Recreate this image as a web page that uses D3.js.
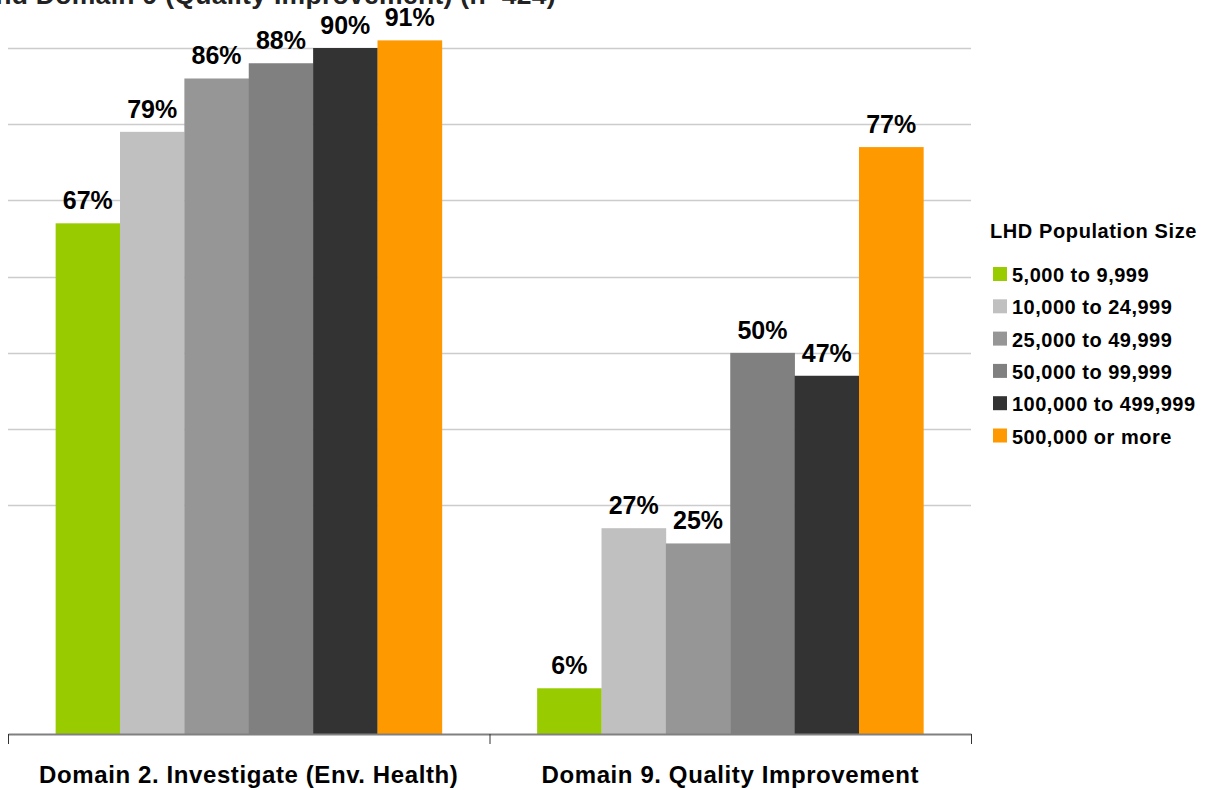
<!DOCTYPE html>
<html><head><meta charset="utf-8">
<script src="https://cdn.jsdelivr.net/npm/d3@7"></script>
<style>
body{margin:0;background:#fff;}
svg{display:block;font-family:Arial,"Liberation Sans",sans-serif;font-weight:bold;}
</style></head><body>
<svg id="c" width="1211" height="790"></svg>
<script>
const titleText = "and Domain 9 (Quality Improvement) (n=424)";
const categories = ["Domain 2. Investigate (Env. Health)", "Domain 9. Quality Improvement"];
const series = ["5,000 to 9,999","10,000 to 24,999","25,000 to 49,999","50,000 to 99,999","100,000 to 499,999","500,000 or more"];
const colors = ["#99CC00","#C0C0C0","#969696","#808080","#333333","#FF9900"];
const domain2Values = [67,79,86,88,90,91];
const domain9Values = [6,27,25,50,47,77];
const gridTicks = [30,40,50,60,70,80,90];
const legendTitle = "LHD Population Size";

const values = [domain2Values, domain9Values];
const svg = d3.select("#c");

const x0 = d3.scaleBand().domain(categories).range([8,971]).padding(0);
const x1 = d3.scaleBand().domain(series).range([0,x0.bandwidth()]).paddingInner(0).paddingOuter(0.74);
const y = d3.scaleLinear().domain([0,90]).range([734,48]);

// gridlines
svg.append("g").selectAll("line").data(gridTicks).join("line")
  .attr("x1",8).attr("x2",971)
  .attr("y1",d=>Math.round(y(d))+0.5).attr("y2",d=>Math.round(y(d))+0.5)
  .attr("stroke","#cccccc").attr("stroke-width",1.5);

// title (cut off at top edge)
svg.append("text").attr("x",556).attr("y",4).attr("text-anchor","end")
  .attr("font-size",26.5).attr("letter-spacing","0.3px").attr("fill","#222").text(titleText);

// bars
const groups = svg.append("g").selectAll("g").data(categories).join("g")
  .attr("transform",d=>`translate(${x0(d)},0)`);
groups.each(function(cat,ci){
  const g = d3.select(this);
  const data = series.map((s,i)=>({s,i,v:values[ci][i]}));
  g.selectAll("rect").data(data).join("rect")
    .attr("x",d=>x1(d.s)).attr("width",x1.bandwidth()+0.3)
    .attr("y",d=>y(d.v)).attr("height",d=>y(0)-y(d.v))
    .attr("fill",d=>colors[d.i]);
  g.selectAll("text").data(data).join("text")
    .attr("x",d=>x1(d.s)+x1.bandwidth()/2)
    .attr("y",d=>y(d.v)-14)
    .attr("text-anchor","middle")
    .attr("font-size",25).attr("fill","#000")
    .text(d=>d.v+"%");
});

// x axis
const xAxis = d3.axisBottom(x0).tickSizeInner(0).tickSizeOuter(0).tickFormat("");
const ax = svg.append("g").attr("transform",`translate(0,${y(0)})`).call(xAxis);
ax.select(".domain").attr("stroke","#808080").attr("stroke-width",2);
// category boundary ticks
const bounds = [x0.range()[0]].concat(categories.map(c=>x0(c)+x0.bandwidth()));
svg.append("g").selectAll("line").data(bounds).join("line")
  .attr("x1",d=>d+0.5).attr("x2",d=>d+0.5).attr("y1",y(0)).attr("y2",y(0)+10)
  .attr("stroke","#333").attr("stroke-width",1);
svg.append("g").selectAll("text").data(categories).join("text")
  .attr("x",d=>x0(d)+x0.bandwidth()/2).attr("y",783)
  .attr("text-anchor","middle").attr("font-size",24).attr("fill","#000")
  .attr("letter-spacing","0.6px")
  .text(d=>d);

// legend
svg.append("text").attr("x",990).attr("y",238).attr("font-size",20)
  .attr("letter-spacing","0.6px").attr("fill","#000").text(legendTitle);
const lg = svg.append("g").selectAll("g").data(series).join("g")
  .attr("transform",(d,i)=>`translate(993,${267+i*32.3})`);
lg.append("rect").attr("width",14).attr("height",14).attr("fill",(d,i)=>colors[i]);
lg.append("text").attr("x",19).attr("y",15).attr("font-size",20)
  .attr("letter-spacing","0.5px").attr("fill","#000").text(d=>d);
</script>
</body></html>
